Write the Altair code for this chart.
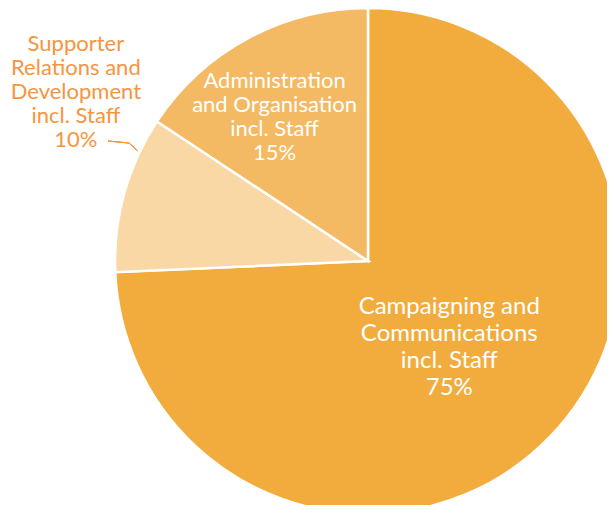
import altair as alt
import pandas as pd

keys = ["camp", "supp", "admin"]
labels = [
    "Campaigning and\nCommunications\nincl. Staff\n75%",
    "Supporter\nRelations and\nDevelopment\nincl. Staff\n10%",
    "Administration\nand Organisation\nincl. Staff\n15%",
]
shares = [74.3, 10.0, 15.7]
order = [0, 1, 2]
colors = ["#F2AC3E", "#F9D8A6", "#F4BA63"]

df = pd.DataFrame({"key": keys, "label": labels, "share": shares, "order": order})

CX, CY, R = 360, 253, 253
FONT = "Lato"

pie = alt.Chart(df).mark_arc(outerRadius=R, stroke="white", strokeWidth=2.5).encode(
    theta=alt.Theta("share:Q", stack=True, scale=alt.Scale(domain=[0, 100])),
    color=alt.Color("key:N", scale=alt.Scale(domain=keys, range=colors), legend=None),
    order=alt.Order("order:Q"),
    x=alt.value(CX),
    y=alt.value(CY),
)

base = alt.Chart(df).transform_stack(
    stack="share", as_=["s0", "s1"], groupby=[], sort=[alt.SortField("order")]
).transform_calculate(mid="(datum.s0 + datum.s1) / 2")


def label_layer(key, radius, dx, dy, size, lh, color):
    return base.transform_filter(alt.datum.key == key).mark_text(
        radius=radius, dx=dx, dy=dy, fontSize=size, lineHeight=lh, lineBreak="\n",
        font=FONT, color=color, align="center", baseline="middle",
    ).encode(
        theta=alt.Theta("mid:Q", scale=alt.Scale(domain=[0, 100])),
        text="label:N",
        x=alt.value(CX),
        y=alt.value(CY),
    )


t_camp = label_layer("camp", 118, -4, -36, 24, 27, "white")
t_admin = label_layer("admin", 172, -12, -29, 22, 24, "white")
t_supp = label_layer("supp", 300, -3, -137, 22, 24, "#F7943E")

lead1 = alt.Chart(df).mark_rule(color="#F7943E", strokeWidth=1).encode(
    x=alt.value(100), x2=alt.value(121), y=alt.value(133), y2=alt.value(135)
)
lead2 = alt.Chart(df).mark_rule(color="#F7943E", strokeWidth=1).encode(
    x=alt.value(121), x2=alt.value(130), y=alt.value(135), y2=alt.value(143)
)

chart = alt.layer(pie, t_camp, t_admin, t_supp, lead1, lead2).properties(
    width=599, height=497, padding=0, autosize=alt.AutoSizeParams(type="none")
).configure_view(stroke=None)

chart.save("out.html", embed_options={"renderer": "svg", "actions": False})
